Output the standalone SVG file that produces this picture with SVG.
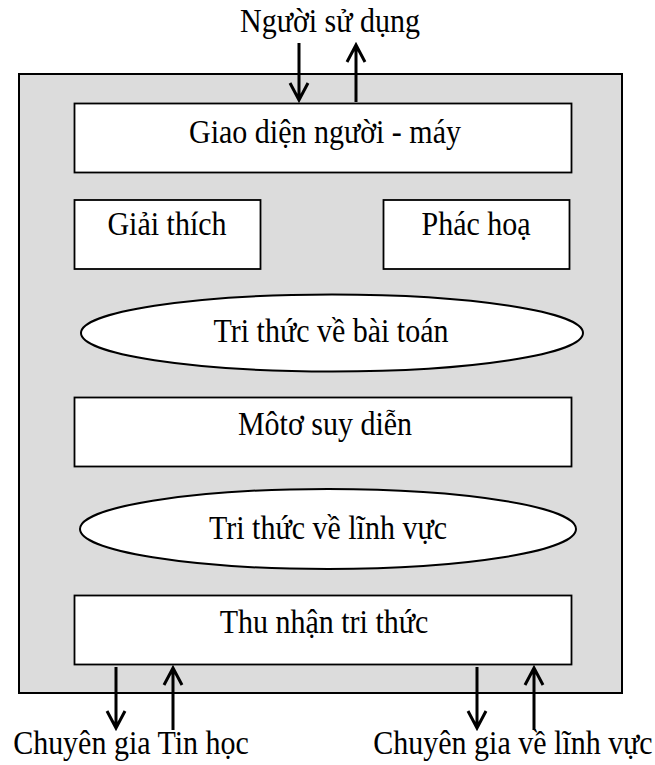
<svg xmlns="http://www.w3.org/2000/svg" width="655" height="765" viewBox="0 0 655 765">
<defs>
<style>
text{font-family:"Liberation Serif","Times New Roman",serif;font-size:30px;fill:#000;text-anchor:middle}
.box{fill:#fff;stroke:#000;stroke-width:1.8}
.ell{fill:#fff;stroke:#000;stroke-width:2}
.arr{fill:none;stroke:#000;stroke-width:3}
</style>
</defs>
<rect id="outer" x="19" y="74" width="603" height="619" fill="#dcdcdc" stroke="#000" stroke-width="2"/>
<text id="lbl-user" transform="translate(330 32) scale(1 1.1)">Người sử dụng</text>
<g id="n-giaodien"><rect class="box" x="74.5" y="103.5" width="497" height="69"/><text transform="translate(325 143) scale(1 1.1)">Giao diện người - máy</text></g>
<g id="n-giaithich"><rect class="box" x="74.5" y="200" width="186" height="69"/><text transform="translate(167 235) scale(1 1.1)">Giải thích</text></g>
<g id="n-phachoa"><rect class="box" x="383.5" y="200" width="186" height="69"/><text transform="translate(476 235) scale(1 1.1)">Phác hoạ</text></g>
<g id="n-trithucbaitoan"><ellipse class="ell" cx="332" cy="333" rx="251" ry="38.5"/><text transform="translate(331 342) scale(1 1.1)">Tri thức về bài toán</text></g>
<g id="n-moto"><rect class="box" x="74.5" y="397.5" width="497" height="69"/><text transform="translate(325 435) scale(1 1.1)">Môtơ suy diễn</text></g>
<g id="n-trithuclinhvuc"><ellipse class="ell" cx="328" cy="529" rx="248" ry="40"/><text transform="translate(328 539) scale(1 1.1)">Tri thức về lĩnh vực</text></g>
<g id="n-thunhan"><rect class="box" x="74.5" y="595.5" width="497" height="69"/><text transform="translate(324 633) scale(1 1.1)">Thu nhận tri thức</text></g>
<text id="lbl-tinhoc" transform="translate(131 754) scale(1 1.1)">Chuyên gia Tin học</text>
<text id="lbl-linhvuc" transform="translate(513 754) scale(1 1.1)">Chuyên gia về lĩnh vực</text>
<g id="connectors">
<path class="arr" d="M299 43V100M290 83L299 100L308 83"/>
<path class="arr" d="M356 102V45M347 62L356 45L365 62"/>
<path class="arr" d="M116 667V728M107 711L116 728L125 711"/>
<path class="arr" d="M173 730V668M164 685L173 668L182 685"/>
<path class="arr" d="M477 667V728M468 711L477 728L486 711"/>
<path class="arr" d="M534 730V668M525 685L534 668L543 685"/>
</g>
</svg>
